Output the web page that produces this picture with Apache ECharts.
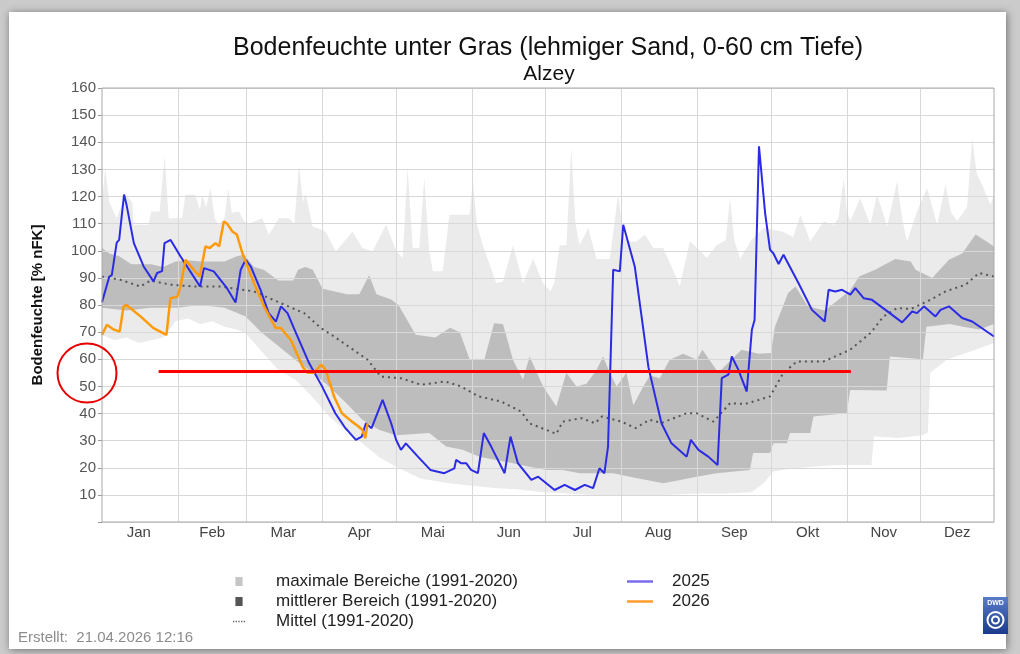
<!DOCTYPE html>
<html>
<head>
<meta charset="utf-8">
<title>Bodenfeuchte unter Gras - Alzey</title>
<script src="https://cdn.jsdelivr.net/npm/echarts@6/dist/echarts.min.js"></script>
<style>
html, body { margin: 0; padding: 0; background: #cbcbcb; }
#chart { width: 1020px; height: 654px; }
</style>
</head>
<body>
<div id="chart"></div>
<script>
// Tag im Jahr (0 = 1. Jan) und Wert in % nFK
var months = ['Jan', 'Feb', 'Mar', 'Apr', 'Mai', 'Jun', 'Jul', 'Aug', 'Sep', 'Okt', 'Nov', 'Dez'];
var monthStarts = [0, 31, 59, 90, 120, 151, 181, 212, 243, 273, 304, 334];
var yTicks = [10, 20, 30, 40, 50, 60, 70, 80, 90, 100, 110, 120, 130, 140, 150, 160];

// maximale Bereiche (1991-2020), obere Grenze
var maxUpper = [[0,118],[1.3,130.5],[3,118],[6,112],[9.5,120.6],[12.3,118],[13,109.6],[19,109.6],[20,114.5],[23.5,114.5],[25.6,134.8],[27.2,112],[32.7,112],[34,120.6],[38,120.6],[40,115],[40.9,120.6],[42.5,116],[44.3,123],[46,112],[47.7,109.6],[50,112],[51.5,123],[53,114],[55.9,114.5],[58,111],[59.8,110],[65.4,112],[68.1,105.9],[72.2,112],[76.3,112],[78.5,110],[80.4,131.7],[82,118],[83.1,121],[85.9,109],[91.3,107],[95.4,99.7],[102.2,107],[106.3,101],[110.4,99.7],[115.9,109.6],[120,100],[122.7,97.3],[124.7,130.5],[126.8,101],[129.5,101],[131.5,126.8],[133.5,100],[135,92.4],[139,92.4],[141.8,113.3],[150,113.3],[151.3,125.6],[153,110],[155.4,102],[160.9,88],[163.6,88.7],[167.7,102],[171.8,88],[175.9,97],[180,88],[183,85],[184.5,88],[186.8,102],[189.5,102],[191.5,137.9],[193.2,110],[194.9,102],[198.4,108.4],[201.8,97],[207.2,97],[210.6,120.6],[213,105],[215.4,103.4],[218.1,103.4],[221.5,106],[225,101],[229,101],[232,95],[235.8,87],[239.9,103.4],[244,100],[246.8,97.3],[250.8,102],[254.5,104],[256.3,119.4],[258,104],[260.4,97],[265,104],[270,108.4],[278,107],[282,105],[285,113.3],[289,103.4],[294.5,110.8],[298.6,109.6],[300.5,112],[302.7,126.8],[304,114],[305.4,111],[309.4,119.4],[313.5,109.6],[316.3,120.6],[320.4,109],[324.5,125.6],[326.5,112],[328.5,103.4],[332.6,114.5],[336.7,123],[340.8,109.6],[344.2,124.3],[346.5,114],[349,111],[353,116],[355.1,141.6],[357,128],[358.5,125.6],[362.6,117],[364,120.6]];
// maximale Bereiche, untere Grenze
var maxLower = [[0,69],[5,67],[10,68],[15,66],[20,67],[25,68],[30,74],[35,75],[40,73],[45,74],[50,72],[55,71],[58.6,69.6],[65,63],[72,56],[79,52.4],[86,46],[92.7,38.9],[99,34],[106.2,29],[113,24],[120,20.4],[130,16],[140,14.5],[150,13.5],[160,12.5],[170,12],[180,11],[190,10.5],[200,10],[215,10],[230,10],[243,10.5],[255,10.5],[265,11],[270,14.4],[274,18.6],[280,19.5],[290,20.4],[300,21],[314,21],[315,31.5],[325,31],[335,32],[337,33],[338,55],[345,60],[355,63],[364,66]];
// mittlerer Bereich (1991-2020), obere Grenze
var midUpper = [[0,101],[3,99],[7,98],[12,95],[20,95],[25,94],[30,96],[35,96.5],[40,96],[45,96],[50,96],[55,98],[58,98.5],[62,94],[66,93],[72,89],[78,89],[80,93],[83,94],[86,93],[90,86],[95,85],[100,84],[105,84],[109,91],[112,84],[118,82],[121,80],[128,69],[136,68],[142,71.6],[146,70],[150,60],[156,59.8],[160,73.3],[163.6,73],[165,68.6],[167.7,59.8],[171.8,52.4],[174.5,61],[180,50],[185.4,42.6],[189.5,55],[193.6,50],[197.7,51],[201.8,56],[204.5,61],[207.2,55],[210,50],[214,55],[216.8,43],[220.9,50],[223.6,54],[227.6,53],[231.7,59.8],[237.2,62],[242.7,59.8],[245,63.5],[251.5,55],[257,60],[261,63.5],[268,62],[273,62.3],[274.6,72],[280,84.4],[283,86.8],[288,79.5],[295,78],[302,83],[305,85],[309,90.5],[315.5,93],[323.7,97],[330,96],[332,93],[338.8,90],[345.6,96.7],[351,99],[356.5,106],[362,102.8],[364,101.6]];
// mittlerer Bereich, untere Grenze
var midLower = [[0,79],[10,78],[20,79],[31,79],[40,80],[50,79],[58.6,75.8],[65,70],[72.2,64.7],[80,59],[85.9,55],[92.7,50],[99.5,44],[106.3,37.7],[113,34],[120,32],[133.6,32.8],[140.4,27.8],[147.2,26.6],[154,24.1],[160.9,22.9],[167.7,21.7],[174.4,20.4],[181.3,19.2],[188,19.2],[194.9,18],[208.6,18],[215.4,16.7],[222.2,15.5],[229,14.3],[236,15.5],[242.7,16.7],[250.8,18],[264.4,19.2],[265.7,25.4],[272.6,25.4],[274,29],[279.5,29],[280.8,32.8],[289,32.8],[290.3,38.9],[297.1,39.5],[303.9,40],[305.3,48.7],[320.2,48.5],[321.5,61],[335,60],[336.4,72],[346,73],[351.4,72],[358,71],[364,73]];
// Mittel (1991-2020)
var mittel = [[0,90.5],[7.5,89.3],[15.7,86.8],[19.8,89],[27.9,87.5],[37.5,86.8],[48.4,86.8],[62,85],[72.9,80.7],[82.5,77],[89.3,71.5],[94.7,68.4],[108.4,59.8],[113.8,53.6],[122,53],[130.2,50.6],[140,51.8],[146.5,50],[153.7,46.3],[162.9,44.4],[171.1,40.7],[174.4,36.4],[185.4,32.5],[188,37],[195.6,38.3],[201.2,36.4],[204,38.9],[212,37],[217.7,34.6],[223.5,37.7],[228.3,36.5],[238.6,40.1],[242.6,40.1],[249.5,37],[256.3,43.8],[262.4,43.5],[267.9,45],[272.6,46.3],[278,54.9],[283.6,59.2],[294.5,59.2],[305.3,63.5],[313.5,69.6],[319,75.8],[324.5,78.9],[330,78.5],[338,81.9],[344.2,85],[352.4,87.5],[357.9,91.8],[364,90.5]];
// 2025
var y2025 = [[0,81],[3,90.5],[4,91],[6,103],[7,104],[9,120.7],[10,117],[13,102.8],[17,94.2],[21,88.7],[22.5,91.8],[24.5,92.5],[25.5,102.8],[28,104],[32,98],[36,92.4],[40,86.8],[41.6,93.6],[45.6,92.4],[51,86.2],[54.5,80.9],[56.6,93],[58.6,96.7],[60.7,94.2],[64.7,85.6],[68,77],[71,73.9],[73,79.5],[75.7,77],[79,70],[84.5,58.6],[89.8,50],[95.2,40.1],[99,35],[103.6,30.3],[106,31.5],[107.7,36.4],[110,34.6],[114.5,45],[118,36.4],[120,30.3],[122,26.6],[124,29],[129,24],[134,19.2],[139.7,18],[143.8,19.8],[144.5,22.9],[146.5,21.7],[148.6,21.7],[150.6,19.2],[153.4,18],[155.8,32.8],[158.8,27.8],[164.3,18],[166.7,31.5],[169.7,21.7],[175.2,15.5],[178,16.7],[184.7,11.8],[188.8,13.7],[193,11.8],[197,13.7],[200.4,12.5],[203,19.8],[205,18],[206.5,27.8],[208.6,93],[211.3,92.4],[212.7,109.6],[217.4,94.2],[220,77],[223,57],[228.3,36.4],[232.4,29],[238.6,24.1],[240.3,30.3],[243.4,26.6],[247.4,24.1],[251.2,21],[252.9,53],[255.6,54.3],[257,61],[259.7,56.1],[263.1,48.1],[265.2,70.9],[266.3,74.5],[268.1,138.5],[270.6,113.9],[272.6,100.4],[274,99],[276.1,95.1],[278.1,98.5],[284.2,88.1],[289.7,78.2],[294.9,73.9],[296.5,85.6],[299.2,85],[302,85.6],[305.4,83.8],[307.4,86.2],[310.8,82.5],[314.2,81.9],[319.7,78.2],[326.5,73.6],[330.6,77.6],[332.6,77],[335.4,79.5],[340.1,75.8],[342.2,78.2],[345.6,79.5],[351,75.2],[355.1,73.9],[364,68.4]];
// 2026
var y2026 = [[0,69],[2,72.7],[4.7,71],[7.2,70.2],[8.8,79.5],[10,80],[15.7,75.8],[21,71.5],[26.3,69],[27.9,82.5],[30.7,83],[32,86.8],[34.1,96.7],[36.8,93.6],[39.9,90.5],[42.2,101.6],[44,101],[46.3,102.8],[47.8,101.6],[49.7,110.8],[51,110],[53.2,107.1],[55,106],[57.3,99.1],[62,88.1],[66.1,79.5],[70.9,71.5],[72.9,71.5],[77,67.2],[82,57],[84,55],[86.5,55],[89.5,58],[91.3,56],[94.7,46.3],[97.9,40.1],[102,37],[104.3,35.5],[106.2,34],[107.4,30.9],[108.4,36.4]];
// rote Markierung
var redLineDays = [23.1, 305.6];
var redLineLevel = 55.7;

var font = '"Liberation Sans", Arial, sans-serif';
var days = [];
for (var i = 0; i < 365; i++) {
    days.push(String(i));
}
var midDays = monthStarts.map(function(s, k) {
    var e = k < 11 ? monthStarts[k + 1] : 365;
    return s + Math.floor((e - s) / 2);
});

function band(name, data, color) {
    return {
        name: name,
        type: 'line',
        xAxisIndex: 0,
        data: data,
        symbol: 'none',
        silent: true,
        z: 1,
        lineStyle: { width: 0, opacity: 0 },
        areaStyle: { color: color, opacity: 1 }
    };
}

var chart = echarts.init(document.getElementById('chart'));
var option = {
    backgroundColor: '#cbcbcb',
    animation: false,
    textStyle: { fontFamily: font },
    title: [{
        text: 'Bodenfeuchte unter Gras (lehmiger Sand, 0-60 cm Tiefe)',
        left: 548,
        top: 36,
        textAlign: 'center',
        padding: 0,
        textStyle: { fontSize: 25, fontWeight: 'normal', color: '#111', fontFamily: font }
    }, {
        text: 'Alzey',
        left: 549,
        top: 64,
        textAlign: 'center',
        padding: 0,
        textStyle: { fontSize: 21, fontWeight: 'normal', color: '#111', fontFamily: font }
    }],
    grid: {
        left: 102, right: 26, top: 88, bottom: 132,
        show: true, borderColor: '#a9a9a9', borderWidth: 1,
        backgroundColor: 'rgba(0,0,0,0)', z: 4
    },
    legend: [{
        orient: 'vertical',
        left: 228,
        top: 568,
        itemWidth: 12,
        itemHeight: 9,
        itemGap: 3,
        selectedMode: false,
        itemStyle: { borderWidth: 0 },
        textStyle: { fontSize: 17, color: '#222', padding: [0, 0, 0, 26], lineHeight: 16 },
        data: [
            { name: 'maximale Bereiche (1991-2020)', icon: 'path://M0,0h8v10h-8z', itemStyle: { color: '#c6c6c6' } },
            { name: 'mittlerer Bereich (1991-2020)', icon: 'path://M0,0h8v10h-8z', itemStyle: { color: '#555' } },
            { name: 'Mittel (1991-2020)', icon: 'path://M0,0h1.5v1.5h-1.5zM3,0h1.5v1.5h-1.5zM6,0h1.5v1.5h-1.5zM9,0h1.5v1.5h-1.5zM12,0h1.5v1.5h-1.5z', itemStyle: { color: '#666' } }
        ]
    }, {
        orient: 'vertical',
        left: 622,
        top: 568,
        itemWidth: 26,
        itemHeight: 9,
        itemGap: 3,
        selectedMode: false,
        itemStyle: { borderWidth: 0 },
        textStyle: { fontSize: 17, color: '#222', padding: [0, 0, 0, 14], lineHeight: 16 },
        data: [
            { name: '2025', icon: 'path://M0,0h26v2.5h-26z', itemStyle: { color: '#7a6cf0' } },
            { name: '2026', icon: 'path://M0,0h26v2.5h-26z', itemStyle: { color: '#ff9c2a' } }
        ]
    }],
    xAxis: [{
        type: 'value',
        min: 0,
        max: 364,
        show: false
    }, {
        type: 'category',
        data: days,
        boundaryGap: false,
        position: 'bottom',
        z: 2,
        axisLine: { show: false },
        axisTick: { show: false },
        axisLabel: {
            interval: function(index) { return midDays.indexOf(index) >= 0; },
            formatter: function(value, index) { return months[midDays.indexOf(Number(value))] || ''; },
            fontSize: 15,
            color: '#444',
            margin: 3
        },
        splitLine: {
            show: true,
            interval: function(index) { return index > 0 && monthStarts.indexOf(index) >= 0; },
            lineStyle: { color: '#d8d8d8', width: 1 }
        }
    }],
    yAxis: {
        type: 'value',
        min: 0,
        max: yTicks[yTicks.length - 1],
        interval: yTicks[1] - yTicks[0],
        z: 2,
        axisLine: { show: false },
        axisTick: { show: true, length: 4, lineStyle: { color: '#999' } },
        splitLine: { lineStyle: { color: '#d8d8d8', width: 1 } },
        axisLabel: {
            fontSize: 15,
            color: '#555',
            margin: 6,
            formatter: function(v) { return yTicks.indexOf(v) >= 0 ? String(v) : ''; }
        },
        name: 'Bodenfeuchte [% nFK]',
        nameLocation: 'middle',
        nameGap: 57,
        nameTextStyle: { fontSize: 15, fontWeight: 'bold', color: '#111' }
    },
    graphic: [{
        type: 'rect',
        z: -10,
        shape: { x: 9, y: 12, width: 997, height: 637 },
        style: { fill: '#fff', shadowBlur: 8, shadowColor: 'rgba(0,0,0,0.45)', shadowOffsetX: 1, shadowOffsetY: 1 }
    }, {
        type: 'circle',
        z: 10,
        shape: { cx: 87, cy: 373, r: 29.5 },
        style: { fill: 'none', stroke: '#e60000', lineWidth: 2 }
    }, {
        type: 'text',
        left: 18,
        top: 630,
        style: { text: 'Erstellt:  21.04.2026 12:16', fill: '#8c8c8c', font: '15px ' + font }
    }, {
        type: 'group',
        left: 983,
        top: 597,
        children: [{
            type: 'rect',
            shape: { x: 0, y: 0, width: 25, height: 37 },
            style: {
                fill: new echarts.graphic.LinearGradient(0, 0, 0, 1, [
                    { offset: 0, color: '#5a7cc8' }, { offset: 1, color: '#1b3a8c' }
                ])
            }
        }, {
            type: 'text',
            x: 12.5,
            y: 6,
            style: { text: 'DWD', fill: '#fff', font: 'bold 7px ' + font, align: 'center', verticalAlign: 'middle' }
        }, {
            type: 'circle',
            shape: { cx: 12.5, cy: 23, r: 8 },
            style: { fill: 'none', stroke: '#fff', lineWidth: 2 }
        }, {
            type: 'circle',
            shape: { cx: 12.5, cy: 23, r: 3.5 },
            style: { fill: 'none', stroke: '#fff', lineWidth: 2 }
        }]
    }],
    series: [
        band('maximale Bereiche (1991-2020)', maxUpper, '#ebebeb'),
        band('mittlerer Bereich (1991-2020)', midUpper, '#bdbdbd'),
        band('mittlerer Bereich unten', midLower, '#ebebeb'),
        band('maximale Bereiche unten', maxLower, '#ffffff'),
        {
            name: 'Mittel (1991-2020)',
            type: 'line',
            data: mittel,
            symbol: 'none',
            z: 3,
            lineStyle: { color: '#555', width: 2, type: [2, 4] }
        }, {
            name: '2025',
            type: 'line',
            data: y2025,
            symbol: 'none',
            z: 3,
            lineStyle: { color: '#2b2be6', width: 2 }
        }, {
            name: '2026',
            type: 'line',
            data: y2026,
            symbol: 'none',
            z: 3,
            lineStyle: { color: '#ff9a0a', width: 2.5 },
            markLine: {
                silent: true,
                symbol: 'none',
                label: { show: false },
                lineStyle: { color: '#ff0000', width: 3, type: 'solid' },
                data: [[{ coord: [redLineDays[0], redLineLevel] }, { coord: [redLineDays[1], redLineLevel] }]]
            }
        }
    ]
};
chart.setOption(option);
</script>
</body>
</html>
